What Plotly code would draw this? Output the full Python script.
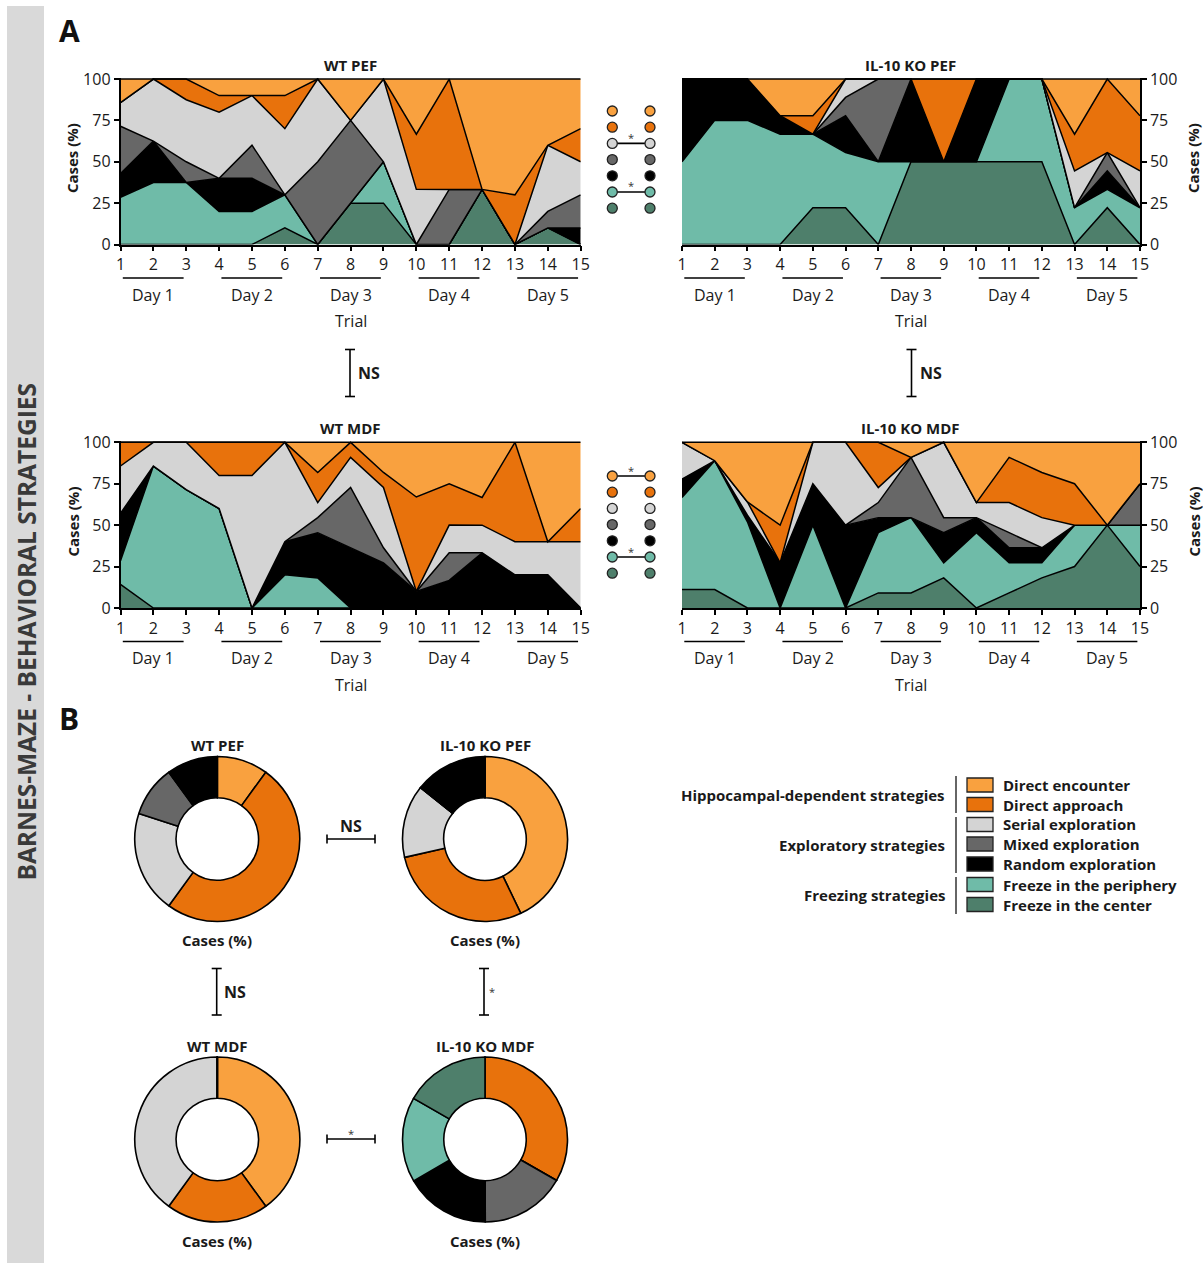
import plotly.graph_objects as go

W, H = 1203, 1268


def px(x):
    return x / W


def py(y):
    return 1 - y / H


FONT = "Open Sans"
trials = list(range(1, 16))
day_labels = ["Day 1", "Day 2", "Day 3", "Day 4", "Day 5"]
ytick_vals = [0, 25, 50, 75, 100]

# stacking order: bottom -> top
strategies = ["Freeze in the center", "Freeze in the periphery", "Random exploration",
              "Mixed exploration", "Serial exploration", "Direct approach", "Direct encounter"]
colors = {
    "Direct encounter": "#F9A13F",
    "Direct approach": "#E8720C",
    "Serial exploration": "#D4D4D4",
    "Mixed exploration": "#676767",
    "Random exploration": "#000000",
    "Freeze in the periphery": "#6FBBA8",
    "Freeze in the center": "#4E7F6B",
}

# ---------------- WT PEF ----------------
wt_pef_center = [0, 0, 0, 0, 0, 10, 0, 25, 25, 0, 0, 33.3, 0, 10, 0]
wt_pef_periphery = [28.6, 37.5, 37.5, 20, 20, 20, 0, 0, 25, 0, 0, 0, 0, 0, 0]
wt_pef_random = [14.3, 25, 0, 20, 20, 0, 0, 0, 0, 0, 0, 0, 0, 0, 10]
wt_pef_mixed = [28.6, 0, 12.5, 0, 20, 0, 50, 50, 0, 0, 33.3, 0, 0, 10, 20]
wt_pef_serial = [14.3, 37.5, 37.5, 40, 30, 40, 50, 0, 50, 33.3, 0, 0, 0, 40, 20]
wt_pef_approach = [0, 0, 12.5, 10, 0, 20, 0, 0, 0, 33.3, 66.7, 0, 30, 0, 20]
wt_pef_encounter = [14.3, 0, 0, 10, 10, 10, 0, 25, 0, 33.3, 0, 66.7, 70, 40, 30]

# ---------------- IL-10 KO PEF ----------------
ko_pef_center = [0, 0, 0, 0, 22.2, 22.2, 0, 50, 50, 50, 50, 50, 0, 22.2, 0]
ko_pef_periphery = [50, 75, 75, 66.7, 44.4, 33.3, 50, 0, 0, 0, 50, 50, 22.2, 11.1, 22.2]
ko_pef_random = [50, 25, 25, 11.1, 0, 22.2, 0, 50, 0, 50, 0, 0, 0, 11.1, 0]
ko_pef_mixed = [0, 0, 0, 0, 0, 11.1, 50, 0, 0, 0, 0, 0, 0, 11.1, 0]
ko_pef_serial = [0, 0, 0, 0, 0, 11.1, 0, 0, 0, 0, 0, 0, 22.2, 0, 22.2]
ko_pef_approach = [0, 0, 0, 0, 11.1, 0, 0, 0, 50, 0, 0, 0, 22.2, 44.4, 33.3]
ko_pef_encounter = [0, 0, 0, 22.2, 22.2, 0, 0, 0, 0, 0, 0, 0, 33.3, 0, 22.2]

# ---------------- WT MDF ----------------
wt_mdf_center = [14.3, 0, 0, 0, 0, 0, 0, 0, 0, 0, 0, 0, 0, 0, 0]
wt_mdf_periphery = [14.3, 85.7, 71.4, 60, 0, 20, 18.2, 0, 0, 0, 0, 0, 0, 0, 0]
wt_mdf_random = [28.6, 0, 0, 0, 0, 20, 27.3, 36.4, 27.3, 10, 16.7, 33.3, 20, 20, 0]
wt_mdf_mixed = [0, 0, 0, 0, 0, 0, 9.1, 36.4, 9.1, 0, 16.7, 0, 0, 0, 0]
wt_mdf_serial = [28.6, 14.3, 28.6, 20, 80, 60, 9.1, 18.2, 36.4, 0, 16.7, 16.7, 20, 20, 40]
wt_mdf_approach = [14.3, 0, 0, 20, 20, 0, 18.2, 9.1, 9.1, 57, 25, 16.7, 60, 0, 20]
wt_mdf_encounter = [0, 0, 0, 0, 0, 0, 18.2, 0, 18.2, 33, 25, 33.3, 0, 60, 40]

# ---------------- IL-10 KO MDF ----------------
ko_mdf_center = [11.1, 11.1, 0, 0, 0, 0, 9.1, 9.1, 18.2, 0, 9.1, 18.2, 25, 50, 25]
ko_mdf_periphery = [55.6, 77.8, 52, 0, 50, 0, 36.4, 45.5, 9.1, 45.5, 18.2, 9.1, 25, 0, 25]
ko_mdf_random = [11.1, 0, 4, 27.3, 25, 50, 9.1, 0, 18.2, 9.1, 9.1, 9.1, 0, 0, 0]
ko_mdf_mixed = [0, 0, 0, 0, 0, 0, 9.1, 36.4, 9.1, 0, 9.1, 0, 0, 0, 25]
ko_mdf_serial = [22.2, 0, 8, 0, 25, 50, 9.1, 0, 45.5, 9.1, 18.2, 18.2, 0, 0, 0]
ko_mdf_approach = [0, 0, 0, 22.7, 0, 0, 27.3, 0, 0, 0, 27.3, 27.3, 25, 0, 0]
ko_mdf_encounter = [0, 11.1, 36, 50, 0, 0, 0, 9.1, 0, 36.4, 9.1, 18.2, 25, 50, 25]

# ---------------- Donuts (overall %) ----------------
pie_labels = ["Direct encounter", "Direct approach", "Serial exploration", "Mixed exploration",
              "Random exploration", "Freeze in the periphery", "Freeze in the center"]
pie_wt_pef = [10, 50, 20, 10, 10, 0, 0]
pie_ko_pef = [42.9, 28.6, 14.3, 0, 14.3, 0, 0]
pie_wt_mdf = [40, 20, 40, 0, 0, 0, 0]
pie_ko_mdf = [0, 33.3, 0, 16.7, 16.7, 16.7, 16.7]

legend_groups = ["Hippocampal-dependent strategies", "Exploratory strategies", "Freezing strategies"]

fig = go.Figure()

panels = [
    ("WT PEF", [wt_pef_center, wt_pef_periphery, wt_pef_random, wt_pef_mixed, wt_pef_serial,
                wt_pef_approach, wt_pef_encounter], (120.5, 580.7), (77.7, 244.5), "left"),
    ("IL-10 KO PEF", [ko_pef_center, ko_pef_periphery, ko_pef_random, ko_pef_mixed, ko_pef_serial,
                      ko_pef_approach, ko_pef_encounter], (682, 1140), (77.7, 244.5), "right"),
    ("WT MDF", [wt_mdf_center, wt_mdf_periphery, wt_mdf_random, wt_mdf_mixed, wt_mdf_serial,
                wt_mdf_approach, wt_mdf_encounter], (120.5, 580.7), (441, 608), "left"),
    ("IL-10 KO MDF", [ko_mdf_center, ko_mdf_periphery, ko_mdf_random, ko_mdf_mixed, ko_mdf_serial,
                      ko_mdf_approach, ko_mdf_encounter], (682, 1140), (441, 608), "right"),
]

shapes = []
annotations = []
layout_axes = {}


def ann(x, y, text, size=16, bold=False, xanchor="center", yanchor="middle", angle=0,
        color="#1a1a1a", xref="paper"):
    annotations.append(dict(
        x=x, y=y, xref=xref, yref="paper", text=f"<b>{text}</b>" if bold else text,
        showarrow=False, xanchor=xanchor, yanchor=yanchor, textangle=angle,
        font=dict(family=FONT, size=size, color=color)))


def line(x0, y0, x1, y1, width=1.6, xref="paper", color="black"):
    shapes.append(dict(type="line", xref=xref, yref="paper", x0=x0, y0=y0, x1=x1, y1=y1,
                       line=dict(color=color, width=width)))


for i, (title, series, (xl, xr), (yt, yb), side) in enumerate(panels):
    n = i + 1
    xa = "x" if n == 1 else f"x{n}"
    ya = "y" if n == 1 else f"y{n}"
    for name, vals in zip(strategies, series):
        fig.add_trace(go.Scatter(
            x=trials, y=vals, mode="lines", stackgroup=f"g{n}", groupnorm="percent",
            line=dict(color="black", width=1.5), fillcolor=colors[name],
            xaxis=xa, yaxis=ya, showlegend=False, hoverinfo="skip", name=name))
    key = "" if n == 1 else str(n)
    layout_axes[f"xaxis{key}"] = dict(
        domain=[px(xl), px(xr)], anchor=ya, range=[1, 15], tickvals=trials,
        ticks="outside", ticklen=5, tickwidth=1.5, tickcolor="black", automargin=False,
        showline=True, linecolor="black", linewidth=1.5, showgrid=False, zeroline=False,
        tickfont=dict(family=FONT, size=16, color="#1a1a1a"), fixedrange=True)
    layout_axes[f"yaxis{key}"] = dict(
        domain=[py(yb), py(yt)], anchor=xa, range=[0, 100.8], tickvals=ytick_vals,
        ticks="outside", ticklen=5, tickwidth=1.5, tickcolor="black", side=side,
        automargin=False,
        showline=True, linecolor="black", linewidth=1.5, showgrid=False, zeroline=False,
        tickfont=dict(family=FONT, size=16, color="#1a1a1a"), fixedrange=True)
    # title
    ann(px((xl + xr) / 2), py(yt - 13), title, size=15, bold=True)
    # y-axis title
    ytitle_x = 72 if side == "left" else 1193
    ann(px(ytitle_x), py((yt + yb) / 2 - 3), "Cases (%)", size=15, bold=True, angle=-90)
    # day groupings
    off = yb - 244.5
    for k, dl in enumerate(day_labels):
        s = 3 * k + 1
        line(s + 0.07, py(278 + off), s + 1.92, py(278 + off), width=1.5, xref=xa)
        annotations.append(dict(x=s + 1, y=py(294.5 + off), xref=xa, yref="paper", text=dl,
                                showarrow=False, xanchor="center", yanchor="middle",
                                font=dict(family=FONT, size=16, color="#1a1a1a")))
    annotations.append(dict(x=8, y=py(321 + off), xref=xa, yref="paper", text="Trial",
                            showarrow=False, xanchor="center", yanchor="middle",
                            font=dict(family=FONT, size=16, color="#1a1a1a")))

# ---------------- Donuts ----------------
pies = [
    ("WT PEF", pie_wt_pef, 217.3, 839),
    ("IL-10 KO PEF", pie_ko_pef, 485, 839),
    ("WT MDF", pie_wt_mdf, 217.3, 1139.5),
    ("IL-10 KO MDF", pie_ko_mdf, 485, 1139.5),
]
R = 82.5
for title, vals, cx, cy in pies:
    fig.add_trace(go.Pie(
        labels=pie_labels, values=vals, sort=False, direction="clockwise", rotation=0,
        hole=0.5, textinfo="none", hoverinfo="label+percent", showlegend=False,
        automargin=False,
        marker=dict(colors=[colors[l] for l in pie_labels], line=dict(color="black", width=1.6)),
        domain=dict(x=[px(cx - R), px(cx + R)], y=[py(cy + R), py(cy - R)])))
    ann(px(cx), py(cy - 94), title, size=15, bold=True)
    ann(px(cx), py(cy + 101), "Cases (%)", size=15, bold=True)


def bracket_v(x, y0, y1, cap=5):
    line(px(x), py(y0), px(x), py(y1))
    line(px(x - cap), py(y0), px(x + cap), py(y0))
    line(px(x - cap), py(y1), px(x + cap), py(y1))


def bracket_h(x0, x1, y, cap=4.5):
    line(px(x0), py(y), px(x1), py(y))
    line(px(x0), py(y - cap), px(x0), py(y + cap))
    line(px(x1), py(y - cap), px(x1), py(y + cap))


# between-panel brackets (part A)
bracket_v(350, 349.5, 396.5)
ann(px(356), py(373), "NS", size=16, bold=True, xanchor="left")
bracket_v(911.5, 349.5, 396.5)
ann(px(917.5), py(373), "NS", size=16, bold=True, xanchor="left")

# brackets (part B)
bracket_h(327, 375, 839)
ann(px(351), py(826), "NS", size=16, bold=True)
bracket_v(216.7, 968.5, 1015)
ann(px(221.5), py(992), "NS", size=16, bold=True, xanchor="left")
bracket_v(484, 968.5, 1015)
ann(px(487), py(991), "*", size=11, xanchor="left", color="#333")
bracket_h(327, 375, 1139)
ann(px(351), py(1133), "*", size=11, color="#333")

# ---------------- significance dot columns ----------------
dot_order = ["Direct encounter", "Direct approach", "Serial exploration", "Mixed exploration",
             "Random exploration", "Freeze in the periphery", "Freeze in the center"]
dot_x = (612.3, 650)
for y0, sig_rows in ((111, (2, 5)), (476, (0, 5))):
    for r in sig_rows:
        yy = y0 + 16.2 * r
        line(px(dot_x[0]), py(yy), px(dot_x[1]), py(yy), width=1.6)
        ann(px(631), py(yy - 6), "*", size=11, color="#333")
    for r, name in enumerate(dot_order):
        yy = y0 + 16.2 * r
        for cx in dot_x:
            shapes.append(dict(type="circle", xref="paper", yref="paper",
                               x0=px(cx - 5), x1=px(cx + 5), y0=py(yy + 5), y1=py(yy - 5),
                               fillcolor=colors[name], line=dict(color="#222", width=1.3)))

# ---------------- legend ----------------
leg_y = [785, 804.5, 824.5, 844, 864, 884.5, 904.5]
for name, yy in zip(dot_order, leg_y):
    shapes.append(dict(type="rect", xref="paper", yref="paper",
                       x0=px(967), x1=px(993), y0=py(yy + 7), y1=py(yy - 7),
                       fillcolor=colors[name], line=dict(color="#222", width=1.3)))
    ann(px(1001), py(yy), name, size=15, bold=True, xanchor="left")
for text, yy, (s0, s1) in zip(legend_groups, (795, 845, 895),
                              ((776, 813), (817, 873), (877, 914))):
    ann(px(947), py(yy), text, size=15, bold=True, xanchor="right")
    line(px(956), py(s0), px(956), py(s1), width=1.5, color="#333")

# ---------------- side band & panel letters ----------------
shapes.insert(0, dict(type="rect", xref="paper", yref="paper", x0=px(7), x1=px(44),
                      y0=py(1263), y1=py(6), fillcolor="#D9D9D9", line=dict(width=0),
                      layer="below"))
ann(px(25.5), py(632), "BARNES-MAZE - BEHAVIORAL STRATEGIES", size=24.5, bold=True,
    angle=-90, color="#3a3a3a")
ann(px(69), py(31), "A", size=30, bold=True, color="#111")
ann(px(69), py(718), "B", size=30, bold=True, color="#111")

fig.update_layout(
    template="none",
    width=W, height=H, margin=dict(l=0, r=0, t=0, b=0, pad=0, autoexpand=False),
    paper_bgcolor="white", plot_bgcolor="white",
    font=dict(family=FONT, size=16, color="#1a1a1a"),
    shapes=shapes, annotations=annotations, showlegend=False,
    **layout_axes)

fig.write_html(
    "out.html",
    config={"displayModeBar": False},
    post_script="document.body.style.margin='0';document.body.style.padding='0';"
                "document.documentElement.style.overflow='hidden';")
